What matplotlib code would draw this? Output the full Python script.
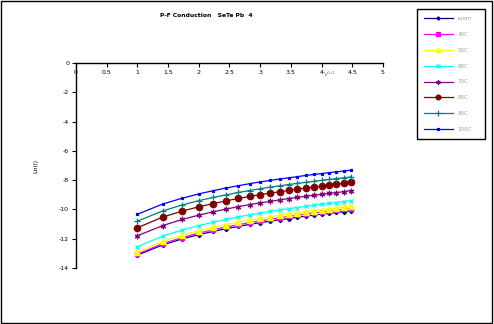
import numpy as np
import matplotlib
matplotlib.use("Agg")
import matplotlib.pyplot as plt
from matplotlib import patches

plt.rcParams["axes.unicode_minus"] = False

# applied voltage steps (V), plotted against sqrt(V)
voltage = [1, 2, 3, 4, 5, 6, 7, 8, 9, 10, 11, 12, 13, 14, 15, 16, 17, 18, 19, 20]

labels = ["room", "40C", "50C", "60C", "70C", "80C", "90C", "100C"]

ln_i_room = [-13.12, -12.42, -12.01, -11.72, -11.50, -11.31, -11.16, -11.02, -10.90, -10.80,
             -10.70, -10.62, -10.53, -10.46, -10.39, -10.32, -10.26, -10.20, -10.15, -10.09]
ln_i_40 = [-13.05, -12.33, -11.92, -11.62, -11.39, -11.20, -11.04, -10.90, -10.78, -10.67,
           -10.57, -10.48, -10.40, -10.32, -10.25, -10.18, -10.12, -10.06, -10.00, -9.95]
ln_i_50 = [-12.90, -12.18, -11.76, -11.46, -11.22, -11.03, -10.87, -10.73, -10.61, -10.50,
           -10.40, -10.31, -10.23, -10.15, -10.08, -10.01, -9.95, -9.89, -9.82, -9.76]
ln_i_60 = [-12.55, -11.82, -11.40, -11.10, -10.87, -10.68, -10.51, -10.37, -10.25, -10.14,
           -10.04, -9.95, -9.87, -9.79, -9.72, -9.65, -9.59, -9.53, -9.46, -9.40]
ln_i_70 = [-11.80, -11.10, -10.68, -10.39, -10.16, -9.97, -9.81, -9.67, -9.55, -9.45,
           -9.35, -9.26, -9.18, -9.10, -9.03, -8.97, -8.91, -8.85, -8.79, -8.72]
ln_i_80 = [-11.25, -10.52, -10.11, -9.82, -9.60, -9.41, -9.25, -9.11, -8.99, -8.89,
           -8.79, -8.70, -8.62, -8.54, -8.47, -8.41, -8.34, -8.28, -8.22, -8.16]
ln_i_90 = [-10.80, -10.10, -9.69, -9.40, -9.18, -9.00, -8.84, -8.71, -8.59, -8.48,
           -8.39, -8.30, -8.22, -8.15, -8.08, -8.01, -7.95, -7.89, -7.84, -7.78]
ln_i_100 = [-10.33, -9.63, -9.23, -8.94, -8.72, -8.53, -8.38, -8.24, -8.12, -8.02,
            -7.92, -7.84, -7.76, -7.68, -7.61, -7.55, -7.49, -7.43, -7.38, -7.32]

series = [ln_i_room, ln_i_40, ln_i_50, ln_i_60, ln_i_70, ln_i_80, ln_i_90, ln_i_100]

styles = [
    ("#000080", "D", 2.2),
    ("#ff00ff", "s", 3.2),
    ("#ffff00", "^", 4.2),
    ("#00ffff", "x", 3.5),
    ("#800080", (6, 2, 0), 4),
    ("#800000", "o", 4.6),
    ("#008080", "+", 5),
    ("#0000ff", "s", 2),
]

x = np.sqrt(voltage)

fig = plt.figure(figsize=(4.94, 3.24), dpi=100)
ax = fig.add_axes([0.1538, 0.1728, 0.6215, 0.6328])

for vals, lab, (col, mk, ms) in zip(series, labels, styles):
    ax.plot(x, vals, color=col, marker=mk, markersize=ms, linewidth=0.9,
            markeredgewidth=0.9, label=lab)

ax.set_xlim(0, 5)
ax.set_ylim(-14, 0)
ax.set_xticks(np.arange(0, 5.01, 0.5))
ax.set_xticklabels(["0", "0.5", "1", "1.5", "2", "2.5", "3", "3.5", "4", "4.5", "5"])
ax.set_yticks(np.arange(-14, 0.1, 2))

# x axis drawn along y=0, which is the top edge
ax.spines["bottom"].set_position(("data", 0))
ax.spines["top"].set_visible(False)
ax.spines["right"].set_visible(False)
for s in ("bottom", "left"):
    ax.spines[s].set_linewidth(1)
ax.tick_params(axis="both", direction="out", length=3, width=0.8,
               labelsize=4.5, pad=2)

ax.text(4.03, -0.95, "V$^{1/2}$", fontsize=4.5, color="#808080")
ax.set_ylabel("Ln(I)", fontsize=4.5, labelpad=15)

fig.text(0.418, 0.952, "P-F Conduction   SeTe Pb  4", fontsize=4.3,
         ha="center", va="center", fontweight="bold")

leg = fig.legend(loc="upper left", bbox_to_anchor=(0.838, 0.580, 0.150, 0.401),
                 mode="expand", fontsize=4, handlelength=5.2, labelspacing=1.95,
                 borderpad=1.3, fancybox=False, edgecolor="black", framealpha=1,
                 markerscale=0.75)
leg.get_frame().set_linewidth(1)
for t in leg.get_texts():
    t.set_color("#a0a0a0")

fig.patches.append(patches.Rectangle((0.003, 0.004), 0.992, 0.992, transform=fig.transFigure,
                                     fill=False, edgecolor="black", linewidth=1))

fig.savefig("out.png", dpi=100)
